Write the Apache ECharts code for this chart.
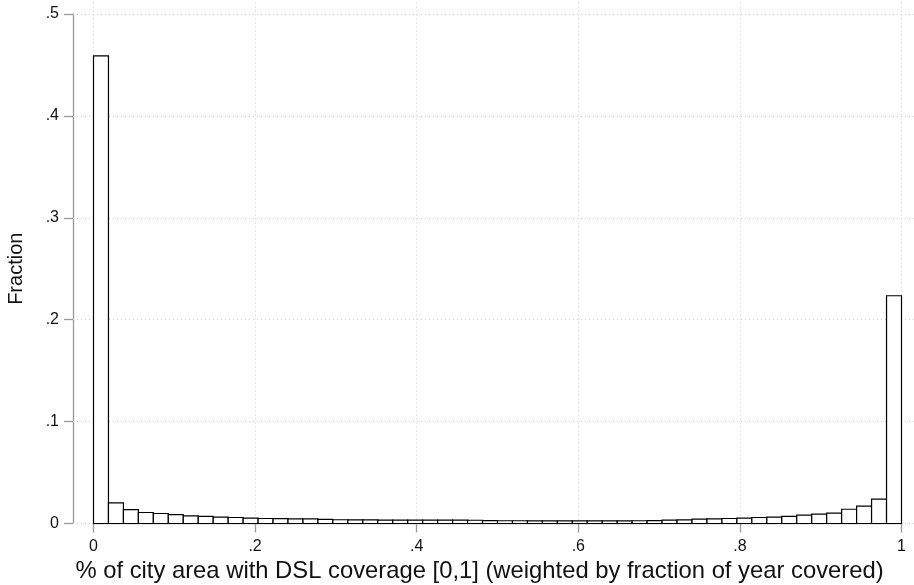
<!DOCTYPE html>
<html>
<head>
<meta charset="utf-8">
<script src="https://cdn.jsdelivr.net/npm/echarts@6/dist/echarts.min.js"></script>
<style>
html,body{margin:0;padding:0;background:#fff;}
#chart{width:914px;height:585px;}
</style>
</head>
<body>
<div id="chart"></div>
<script>
// ---- data ----
const binCount = 54;               // histogram bins over [0,1]
const fractions = [
  0.459, 0.0202, 0.0137, 0.0108, 0.0098, 0.0088, 0.0075, 0.0069, 0.0062, 0.0059,
  0.0052, 0.0049, 0.0047, 0.0046, 0.0046, 0.0040, 0.0037, 0.0035, 0.0035, 0.0034,
  0.0034, 0.0034, 0.0034, 0.0033, 0.0033, 0.0032, 0.0028, 0.0027, 0.0027, 0.0026,
  0.0026, 0.0026, 0.0026, 0.0026, 0.0026, 0.0026, 0.0027, 0.0028, 0.0033, 0.0036,
  0.0042, 0.0046, 0.0049, 0.0052, 0.0059, 0.0062, 0.0069, 0.0082, 0.0092, 0.0101,
  0.0140, 0.0170, 0.0239, 0.2235
];
const xTickValues = [0, 0.2, 0.4, 0.6, 0.8, 1];
const xTickLabels = ['0', '.2', '.4', '.6', '.8', '1'];
const yTickValues = [0, 0.1, 0.2, 0.3, 0.4, 0.5];
const yTickLabels = ['0', '.1', '.2', '.3', '.4', '.5'];
const xTitle = '% of city area with DSL coverage [0,1] (weighted by fraction of year covered)';
const yTitle = 'Fraction';

// ---- layout ----
const W = 914, H = 585;
const plotL = 93.5, plotR = 901.5, plotT = 14, plotB = 523.5;
const outerL = 73, outerR = 914, outerT = 0;
const pxPerX = (plotR - plotL) / 1, pxPerY = (plotB - plotT) / 0.5;

const bins = fractions.map((v, i) => [i / binCount, (i + 1) / binCount, v]);

const gridMarks = [];
xTickValues.forEach(v => gridMarks.push({ xAxis: v }));
yTickValues.forEach(v => gridMarks.push({ yAxis: v }));

const fontFam = '"Liberation Sans", Arial, Helvetica, sans-serif';
const axisGray = '#9a9a9a';

const chart = echarts.init(document.getElementById('chart'), null, { renderer: 'canvas' });
chart.setOption({
  backgroundColor: '#ffffff',
  animation: false,
  grid: [
    { left: plotL, right: W - plotR, top: plotT, bottom: H - plotB, containLabel: false, outerBoundsMode: 'none' },
    { left: outerL, right: W - outerR, top: outerT, bottom: H - plotB, containLabel: false, outerBoundsMode: 'none' }
  ],
  xAxis: [
    {
      type: 'value', gridIndex: 0, min: 0, max: 1, interval: 0.2,
      axisLine: { show: true, onZero: false, lineStyle: { color: axisGray, width: 1.3 } },
      axisTick: { show: true, length: 9, lineStyle: { color: axisGray, width: 1.3 } },
      axisLabel: {
        margin: 15, color: '#111', fontSize: 16, fontFamily: fontFam,
        formatter: v => { const i = xTickValues.findIndex(t => Math.abs(t - v) < 1e-9); return i >= 0 ? xTickLabels[i] : ''; }
      },
      splitLine: { show: false },
      name: xTitle, nameLocation: 'middle', nameGap: 36,
      nameTextStyle: { color: '#111', fontSize: 23.8, fontFamily: fontFam, padding: [0, 36, 0, 0] }
    },
    {
      type: 'value', gridIndex: 1,
      min: -(plotL - outerL) / pxPerX, max: 1 + (outerR - plotR) / pxPerX,
      show: false, splitLine: { show: false }
    }
  ],
  yAxis: [
    {
      type: 'value', gridIndex: 0, min: 0, max: 0.5, interval: 0.1,
      offset: plotL - outerL,
      axisLine: { show: true, onZero: false, lineStyle: { color: axisGray, width: 1.3 } },
      axisTick: { show: true, length: 9, lineStyle: { color: axisGray, width: 1.3 } },
      axisLabel: {
        margin: 14, color: '#111', fontSize: 16, fontFamily: fontFam,
        formatter: v => { const i = yTickValues.findIndex(t => Math.abs(t - v) < 1e-9); return i >= 0 ? yTickLabels[i] : ''; }
      },
      splitLine: { show: false },
      name: yTitle, nameLocation: 'middle', nameGap: 47, nameRotate: 90,
      nameTextStyle: { color: '#111', fontSize: 20, fontFamily: fontFam }
    },
    {
      type: 'value', gridIndex: 1,
      min: 0, max: 0.5 + (plotT - outerT) / pxPerY,
      show: false, splitLine: { show: false }
    }
  ],
  series: [
    {
      type: 'line', xAxisIndex: 1, yAxisIndex: 1, data: [], z: 1, silent: true,
      markLine: {
        silent: true, symbol: ['none', 'none'], animation: false,
        label: { show: false },
        lineStyle: { color: '#cfcfcf', type: [1, 3], width: 1 },
        emphasis: { disabled: true },
        data: gridMarks
      }
    },
    {
      type: 'custom', xAxisIndex: 0, yAxisIndex: 0, z: 5, silent: true,
      encode: { x: [0, 1], y: 2 },
      data: bins,
      renderItem: (params, api) => {
        const a = api.coord([api.value(0), api.value(2)]);
        const b = api.coord([api.value(1), 0]);
        return {
          type: 'rect',
          shape: { x: a[0], y: a[1], width: b[0] - a[0], height: b[1] - a[1] },
          style: { fill: '#ffffff', stroke: '#000000', lineWidth: 1.2 }
        };
      }
    }
  ]
});
</script>
</body>
</html>
